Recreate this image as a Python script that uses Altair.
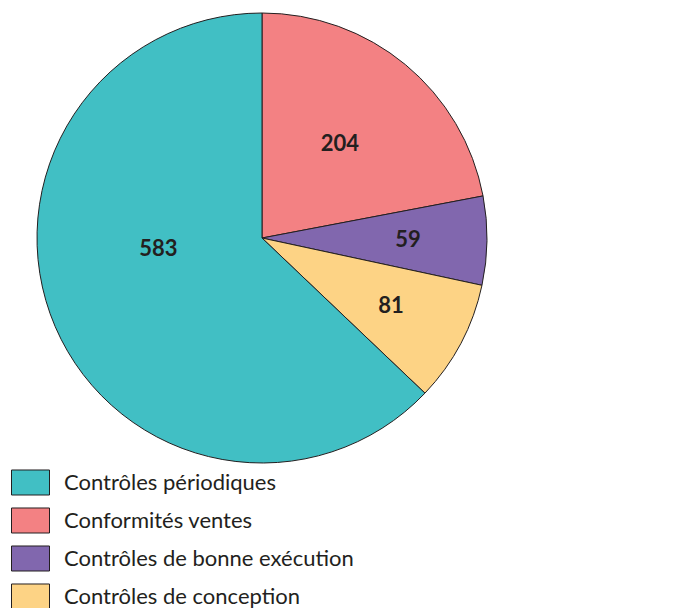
import altair as alt
import pandas as pd

# data in pie (clockwise from 12 o'clock) order
categories = ["Conformités ventes", "Contrôles de bonne exécution",
              "Contrôles de conception", "Contrôles périodiques"]
values = [204, 59, 81, 583]
legend_order = ["Contrôles périodiques", "Conformités ventes",
                "Contrôles de bonne exécution", "Contrôles de conception"]
legend_colors = ["#41BFC4", "#F38183", "#8167AE", "#FDD385"]

df = pd.DataFrame({"category": categories, "value": values,
                   "idx": list(range(len(categories)))})

CX, CY, R = 254, 230, 225
INK = "#231F20"
BIG = "Contrôles périodiques"
TOP = "Conformités ventes"

pie = alt.Chart(df).mark_arc(outerRadius=R, stroke=INK, strokeWidth=1).encode(
    theta=alt.Theta("value:Q", stack=True),
    order=alt.Order("idx:Q"),
    x=alt.value(CX),
    y=alt.value(CY),
    color=alt.Color("category:N",
                    scale=alt.Scale(domain=legend_order, range=legend_colors),
                    legend=alt.Legend(title=None, orient="none",
                                      legendX=3, legendY=455)),
)

labels = alt.Chart(df).transform_window(
    cum="sum(value)", sort=[alt.SortField("idx")],
    frame=[None, 0]
).transform_joinaggregate(
    total="sum(value)"
).transform_calculate(
    ang="(datum.cum - datum.value / 2) / datum.total * 2 * PI",
    r=f"datum.category == '{BIG}' ? 105 : (datum.category == '{TOP}' ? 122 : 146)",
).transform_calculate(
    lx=f"{CX} + datum.r * sin(datum.ang) + (datum.category == '{BIG}' ? -7 : 0)",
    ly=f"{CY} - datum.r * cos(datum.ang) + (datum.category == '{BIG}' ? -30 : 0)",
).mark_text(fontSize=22, fontWeight="bold", font="Lato", color=INK).encode(
    x=alt.X("lx:Q", scale=None),
    y=alt.Y("ly:Q", scale=None),
    text="value:Q",
)

chart = alt.layer(pie, labels).properties(
    width=673, height=600,
    autosize=alt.AutoSizeParams(type="none"),
    padding=0,
).configure_view(stroke=None).configure_legend(
    symbolType="M-1,-0.658H1V0.658H-1Z",
    symbolSize=1444,
    symbolStrokeColor=INK,
    symbolStrokeWidth=1,
    symbolOpacity=1,
    labelFont="Lato",
    labelFontSize=22,
    labelColor=INK,
    labelOffset=14,
    rowPadding=3,
    labelLimit=400,
)

chart.save("out.html", embed_options={"renderer": "svg", "actions": False})
